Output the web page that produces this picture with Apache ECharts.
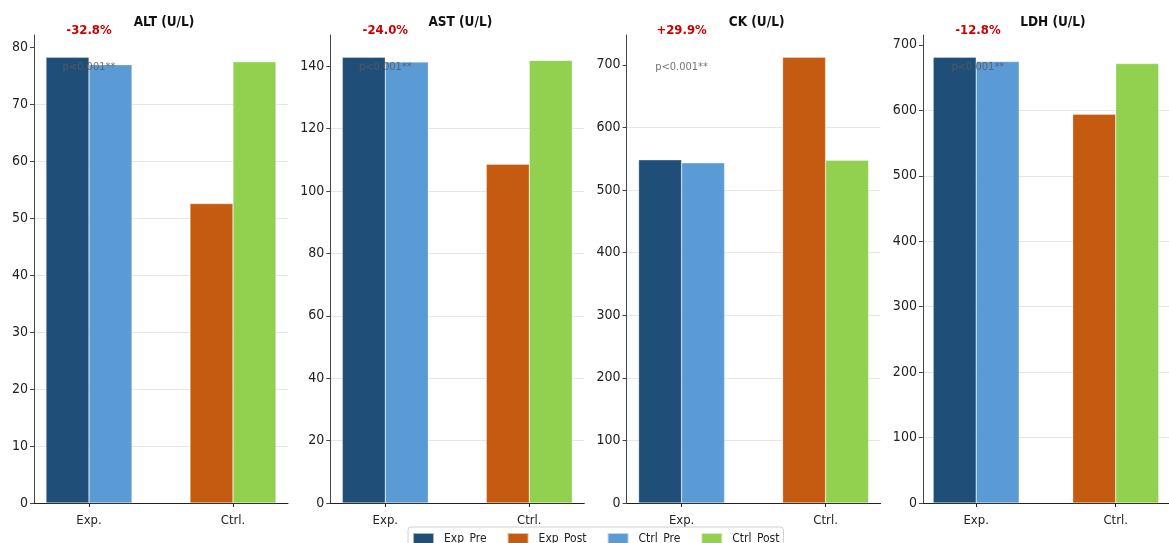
<!DOCTYPE html>
<html>
<head>
<meta charset="utf-8">
<script src="https://cdn.jsdelivr.net/npm/echarts@6/dist/echarts.min.js"></script>
<style>
  html, body { margin: 0; padding: 0; background: #fff; }
  #chart { width: 1169px; height: 543px; }
</style>
</head>
<body>
<div id="chart"></div>
<script>
// data
const groups = ['Exp.', 'Ctrl.'];
const panels = ['ALT (U/L)', 'AST (U/L)', 'CK (U/L)', 'LDH (U/L)'];
const expPre = [78.3, 142.9, 548.2, 681];
const expPost = [52.6, 108.6, 712, 594];
const ctrlPre = [77.0, 141.4, 543.4, 674.5];
const ctrlPost = [77.5, 141.9, 547.4, 671.4];
const yStep = [10, 20, 100, 100];
const pText = ['p<0.001**', 'p<0.001**', 'p<0.001**', 'p<0.001**'];

const FONT = '"DejaVu Sans Condensed", "DejaVu Sans", sans-serif';
const colors = {
  Exp_Pre: '#1f4e79',
  Exp_Post: '#c55a11',
  Ctrl_Pre: '#5b9bd5',
  Ctrl_Post: '#92d050'
};

const chart = echarts.init(document.getElementById('chart'));

const X_MIN = -0.382, X_MAX = 1.382;
const gridLeft = i => 34 + i * 296.3;
const gridW = 254;
const pxPerUnit = gridW / (X_MAX - X_MIN);

const grids = [], xAxes = [], yAxes = [], series = [], titles = [], texts = [];

panels.forEach((name, i) => {
  const top = Math.max(expPre[i], expPost[i], ctrlPre[i], ctrlPost[i]) * 1.05;
  const ticks = [];
  for (let v = 0; v <= top; v += yStep[i]) ticks.push(v);

  grids.push({ left: gridLeft(i), width: gridW, top: 35, bottom: 40 });

  xAxes.push({
    type: 'value', gridIndex: i, min: X_MIN, max: X_MAX,
    splitLine: { show: false },
    axisLine: { onZero: false, lineStyle: { color: '#222', width: 1 } },
    axisTick: { customValues: [0, 1], length: 4, lineStyle: { color: '#222' } },
    axisLabel: {
      customValues: [0, 1],
      formatter: v => groups[Math.round(v)],
      fontFamily: FONT, fontSize: 13, color: '#222', margin: 11
    }
  });

  yAxes.push({
    type: 'value', gridIndex: i, min: 0, max: top,
    axisLine: { show: true, onZero: false, lineStyle: { color: '#444', width: 1 } },
    axisTick: { show: true, customValues: ticks, length: 4, lineStyle: { color: '#444' } },
    axisLabel: { customValues: ticks, fontFamily: FONT, fontSize: 14, color: '#222', margin: 6 },
    splitLine: { show: true, showMaxLine: false, lineStyle: { color: '#e6e6e6', width: 1 } }
  });

  const bar = (sname, stack, data) => ({
    name: sname, type: 'bar', xAxisIndex: i, yAxisIndex: i,
    stack: stack + i, barWidth: 43, barGap: '0%',
    itemStyle: { color: colors[sname], borderColor: 'rgba(255,255,255,0.6)', borderWidth: 0.5 },
    data
  });
  series.push(
    bar('Exp_Pre', 'L', [[0, expPre[i]], [1, '-']]),
    bar('Exp_Post', 'L', [[0, '-'], [1, expPost[i]]]),
    bar('Ctrl_Pre', 'R', [[0, ctrlPre[i]], [1, '-']]),
    bar('Ctrl_Post', 'R', [[0, '-'], [1, ctrlPost[i]]])
  );

  titles.push({
    text: name, left: gridLeft(i) + gridW / 2 - 2, top: 10, textAlign: 'center',
    textStyle: { fontFamily: FONT, fontSize: 13.5, fontWeight: 'bold', color: '#111' }
  });

  const change = (expPost[i] - expPre[i]) / expPre[i] * 100;
  const cx = gridLeft(i) + (0 - X_MIN) * pxPerUnit;
  texts.push({
    type: 'text', x: cx, y: 31, z: 100,
    style: {
      text: (change > 0 ? '+' : '') + change.toFixed(1) + '%',
      textAlign: 'center', textVerticalAlign: 'middle',
      font: 'bold 13px ' + FONT, fill: '#cc0000'
    }
  }, {
    type: 'text', x: cx, y: 67, z: 100,
    style: {
      text: pText[i], textAlign: 'center', textVerticalAlign: 'middle',
      font: '11px ' + FONT, fill: 'rgba(90,90,90,0.85)'
    }
  });
});

const option = {
  animation: false,
  title: titles,
  legend: {
    data: ['Exp_Pre', 'Exp_Post', 'Ctrl_Pre', 'Ctrl_Post'],
    left: 408, top: 527,
    icon: 'rect', itemWidth: 21, itemHeight: 12, itemGap: 20,
    padding: [5, 4], borderColor: '#d0d0d0', borderWidth: 1, borderRadius: 3,
    textStyle: { fontFamily: FONT, fontSize: 12, color: '#222', padding: [0, 0, 0, 5] }
  },
  grid: grids,
  xAxis: xAxes,
  yAxis: yAxes,
  series: series,
  graphic: texts
};

chart.setOption(option);
</script>
</body>
</html>
